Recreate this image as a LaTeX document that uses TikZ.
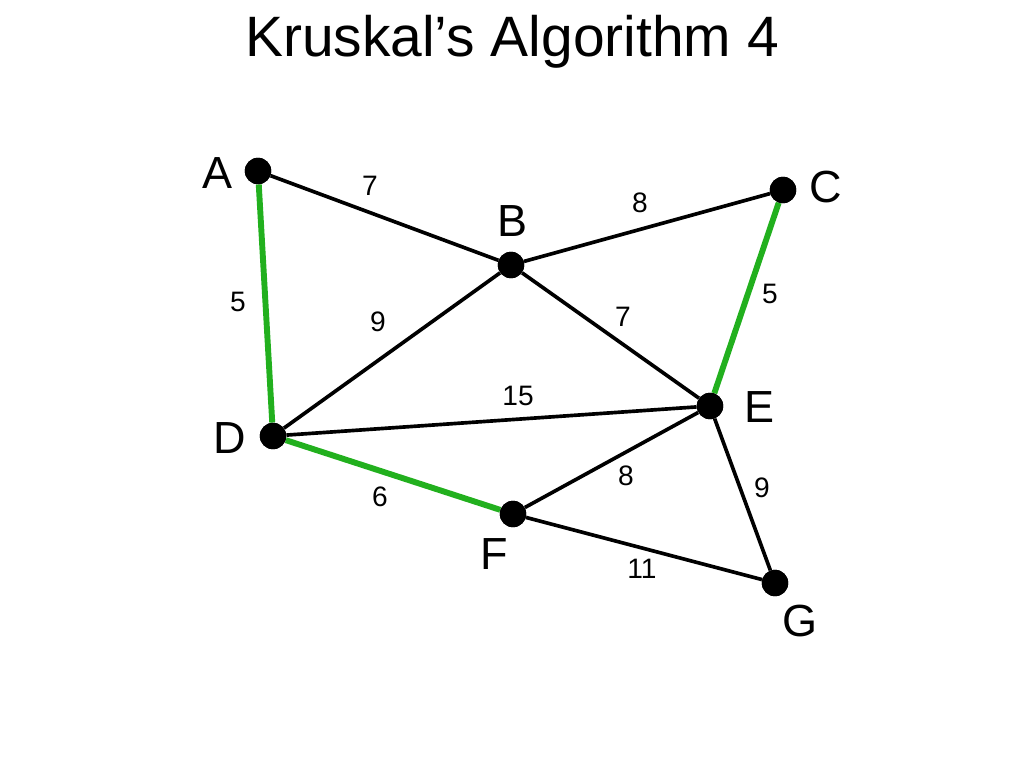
\documentclass[tikz,border=0pt]{standalone}
\usepackage{fontspec}
\setmainfont{Liberation Sans}
\usetikzlibrary{positioning}
\definecolor{tree}{HTML}{22B01E}

\begin{document}
\begin{tikzpicture}[x=0.025cm,y=-0.025cm, every node/.style={font=\fontsize{32}{36}\selectfont}, vert/.style={circle,fill=black,inner sep=0pt,minimum size=0.66cm}, edge/.style={line width=2.6pt,draw=black}, mst/.style={line width=4.2pt,draw=tree}, wt/.style={font=\fontsize{20}{24}\selectfont}]
\useasboundingbox (0,0) rectangle (1024,768);
\node (title) at (512,42) {\fontsize{40.5}{46}\selectfont Kruskal’s Algorithm 4};
\node[vert] (A) at (258,171) {};
\node[vert] (B) at (511,265) {};
\node[vert] (C) at (783,190) {};
\node[vert] (D) at (273,436) {};
\node[vert] (E) at (710,406) {};
\node[vert] (F) at (513,514) {};
\node[vert] (G) at (775,583) {};
\node (lA) at (218,173) {A};\node (lB) at (512,221) {B};\node (lC) at (826,187) {C};
\node (lD) at (230,438) {D};\node (lE) at (759,407) {E};\node (lF) at (494,554) {F};\node (lG) at (800,621) {G};
\draw[edge] (A)--(B);\draw[edge] (B)--(C);\draw[edge] (B)--(D);\draw[edge] (B)--(E);\draw[edge] (D)--(E);\draw[edge] (E)--(F);\draw[edge] (E)--(G);\draw[edge] (F)--(G);
\draw[mst] (A)--(D);\draw[mst] (C)--(E);\draw[mst] (D)--(F);
\node[vert] at (A) {};\node[vert] at (B) {};\node[vert] at (C) {};\node[vert] at (D) {};\node[vert] at (E) {};\node[vert] at (F) {};\node[vert] at (G) {};
\node[wt] (wAB) at (370,186) {7};\node[wt] (wBC) at (640,203) {8};\node[wt] (wAD) at (238,302) {5};\node[wt] (wBD) at (378,322) {9};
\node[wt] (wBE) at (623,317) {7};\node[wt] (wCE) at (770,294) {5};\node[wt] (wDE) at (518,396) {15};\node[wt] (wDF) at (380,497) {6};
\node[wt] (wEF) at (626,476) {8};\node[wt] (wEG) at (762,488) {9};\node[wt] (wFG) at (642,569) {11};
\end{tikzpicture}
\end{document}
